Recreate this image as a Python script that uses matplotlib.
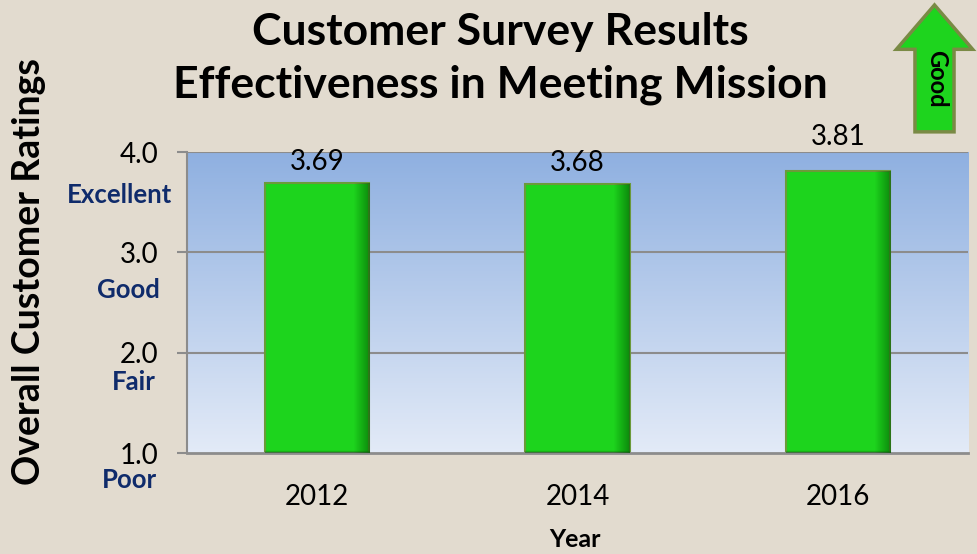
import numpy as np
import matplotlib.pyplot as plt
from matplotlib.patches import FancyArrow

years = ["2012", "2014", "2016"]
ratings = [3.69, 3.68, 3.81]
yticks = [1.0, 2.0, 3.0, 4.0]
scale_names = ["Poor", "Fair", "Good", "Excellent"]

plt.rcParams['font.family'] = ['Lato', 'DejaVu Sans']

bg = "#e2dbcf"
fig = plt.figure(figsize=(9.77, 5.54), dpi=100, facecolor=bg)
ax = fig.add_axes([0.1914, 0.1823, 0.7995, 0.5433])
ax.set_facecolor("none")

x = np.arange(len(years))
ax.set_xlim(-0.5, 2.5)
ax.set_ylim(1, 4)

# blue gradient background
grad = np.linspace(0, 1, 256).reshape(-1, 1)
top = np.array([0.56, 0.69, 0.88])
bot = np.array([0.89, 0.92, 0.97])
img = bot + (top - bot) * grad[:, :, None] * np.ones((1, 1, 3))
ax.imshow(img, extent=[-0.5, 2.5, 1, 4], origin="lower", aspect="auto", zorder=0)

for yv in [2, 3, 4]:
    ax.axhline(yv, color="#8c8c8c", lw=1.5, zorder=1)

bars = ax.bar(x, [r - 1 for r in ratings], bottom=1, width=0.40,
              color="#1dd41d", edgecolor="#6b9a3a", lw=1.5, zorder=2)

# dark shading at right and bottom of each bar
for b in bars:
    x0, y0 = b.get_x(), b.get_y()
    w, h = b.get_width(), b.get_height()
    sh = np.linspace(0, 1, 100)
    rgba = np.zeros((1, 100, 4))
    rgba[..., 1] = 0.35
    rgba[..., 3] = np.clip((sh - 0.85) / 0.15, 0, 1) * 0.6
    im = ax.imshow(rgba, extent=[x0, x0 + w, y0, y0 + h], aspect="auto", zorder=3)
    im.set_clip_path(b)
    rgba2 = np.zeros((100, 1, 4))
    rgba2[..., 1] = 0.35
    rgba2[..., 3] = np.clip((0.1 - sh[:, None]) / 0.1, 0, 1) * 0.6
    im2 = ax.imshow(rgba2, extent=[x0, x0 + w, y0, y0 + 0.25], origin="lower",
                    aspect="auto", zorder=3)
    im2.set_clip_path(b)

# value labels; pushed above the top gridline if they would cross it
for xi, r in zip(x, ratings):
    ly = r + 0.21
    if ly - 0.1 < 4.0 < ly + 0.1:
        ly = 4.15
    ax.text(xi, ly, f"{r:.2f}", ha="center", va="center", fontsize=20,
            color="black", zorder=4, clip_on=False)

ax.set_xticks(x)
ax.set_xticklabels(years, fontsize=20)
ax.set_yticks(yticks)
ax.set_yticklabels([f"{v:.1f}" for v in yticks], fontsize=20)
ax.tick_params(axis="x", length=0, pad=22)
ax.tick_params(axis="y", length=7.5, width=1.5, color="#8c8c8c", pad=13)
for s in ["top", "right"]:
    ax.spines[s].set_visible(False)
ax.spines["left"].set_color("#8c8c8c")
ax.spines["left"].set_linewidth(1.5)
ax.spines["bottom"].set_color("#8c8c8c")
ax.spines["bottom"].set_linewidth(2)
ax.spines["bottom"].set_bounds(-0.5, 2.5)

# scale names under each tick
name_pos = {"Excellent": (0.176, 3.57), "Good": (0.164, 2.62),
            "Fair": (0.159, 1.71), "Poor": (0.161, 0.73)}
for n in scale_names:
    px, yv = name_pos[n]
    fy = 0.1823 + (yv - 1) / 3 * 0.5433
    fig.text(px, fy, n, ha="right", va="center", fontsize=18.5,
             fontweight="bold", color="#0f2b6b")

fig.text(0.512, 0.942, "Customer Survey Results", ha="center", va="center",
         fontsize=32, fontweight="bold")
fig.text(0.512, 0.847, "Effectiveness in Meeting Mission", ha="center",
         va="center", fontsize=32, fontweight="bold")
fig.text(0.030, 0.51, "Overall Customer Ratings", rotation=90, ha="center",
         va="center", fontsize=27, fontweight="bold")
fig.text(0.588, 0.026, "Year", ha="center", va="center", fontsize=18,
         fontweight="bold")

# "Good" arrow at top right
arrow = FancyArrow(0.9565, 0.762, 0, 0.229, width=0.040, head_width=0.078,
                   head_length=0.08, length_includes_head=True,
                   transform=fig.transFigure, facecolor="#1ed41e",
                   edgecolor="#7a8a45", lw=2.5)
fig.add_artist(arrow)
fig.text(0.9585, 0.858, "Good", rotation=-90, ha="center", va="center",
         fontsize=17, fontweight="bold")

fig.savefig("out.png", dpi=100, facecolor=bg)
